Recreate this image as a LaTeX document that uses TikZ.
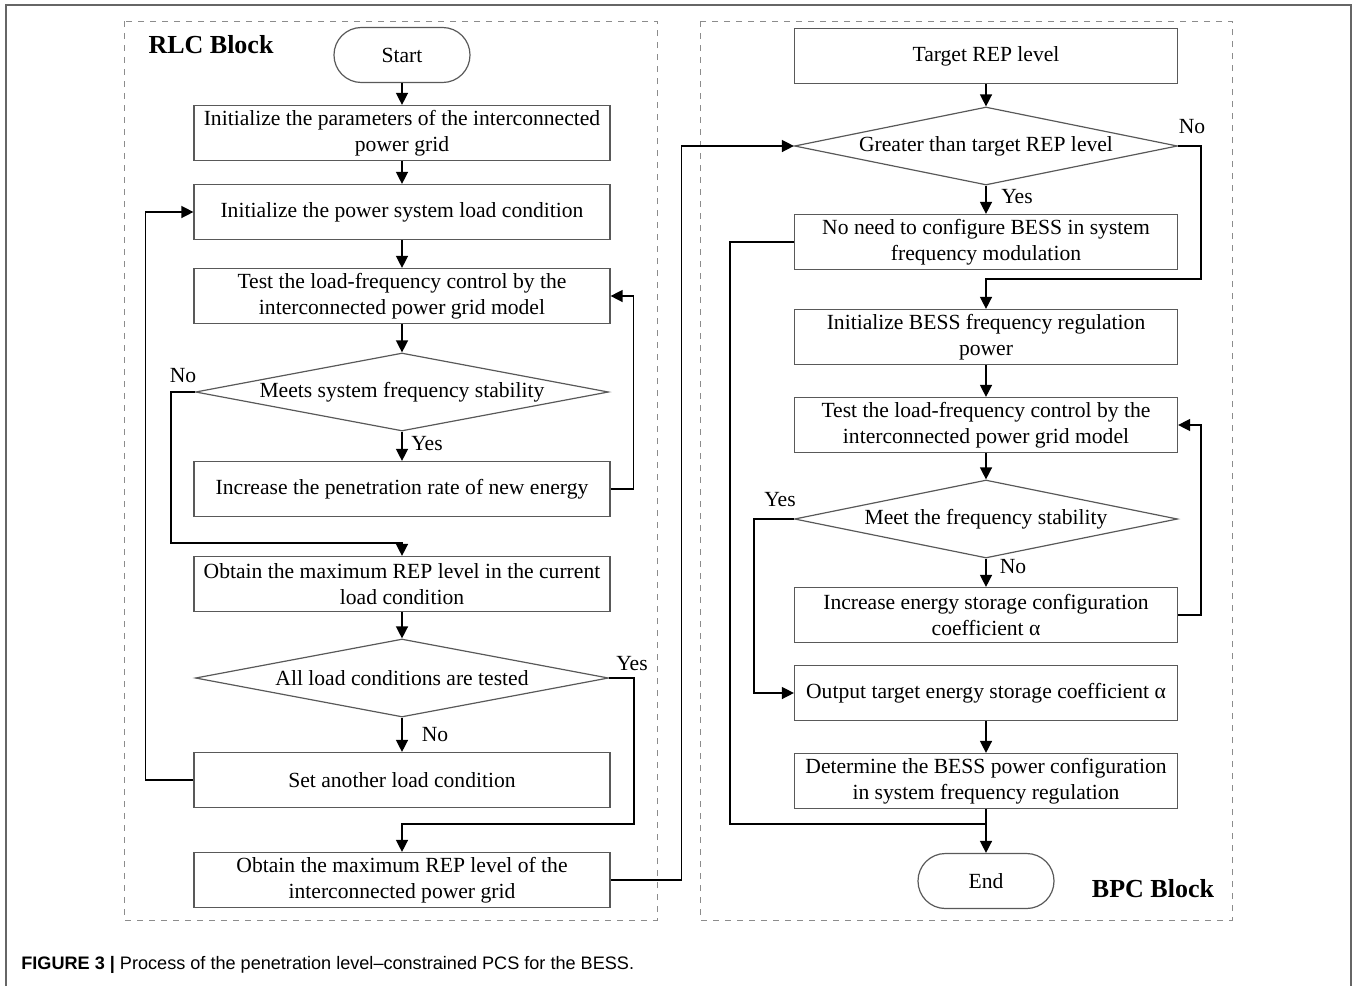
\documentclass[tikz,border=0pt]{standalone}
\usepackage{fontspec}
\setmainfont{Liberation Serif}
\newfontfamily\capfont{Liberation Sans}
\usetikzlibrary{arrows.meta}
\usetikzlibrary{shapes.geometric}

\begin{document}
\begin{tikzpicture}
		[x=0.5pt,y=-0.5pt,
		every node/.style={font=\fontsize{10.8}{13}\selectfont},
		box/.style={rectangle,draw=black!65,line width=0.6pt,minimum width=208pt,minimum height=27.5pt,align=center,inner sep=1pt},
		rbox/.style={box,minimum width=191.5pt},
		dec/.style={diamond,draw=black!65,line width=0.6pt,aspect=5.3,inner sep=0pt,minimum width=206.5pt,minimum height=39pt},
		term/.style={rectangle,rounded corners=13.7pt,draw=black!65,line width=0.6pt,minimum width=68pt,minimum height=27.5pt},
		arr/.style={-{Triangle[length=6pt,width=6pt]},line width=0.7pt},
		wire/.style={line width=0.7pt},
		blk/.style={font=\fontsize{13}{15}\selectfont\bfseries},
		frame/.style={draw=black!45,dashed,line width=0.4pt}]
		\useasboundingbox (0,0) rectangle (1354,986);
		% outer frame and blocks
		\draw[black!60,line width=1pt] (6,986) -- (6,5) -- (1351,5) -- (1351,986);
		\draw[frame] (124,21) rectangle (657,920);
		\draw[frame] (700,21) rectangle (1232,920);
		\node[blk] (rlc) at (211,45) {RLC Block};
		\node[blk] (bpc) at (1153,889) {BPC Block};
		
		% RLC block
		\node[term] (start) at (402,55) {Start};
		\node[box] (b1) at (402,133) {Initialize the parameters of the interconnected\\power grid};
		\node[box] (b2) at (402,212) {Initialize the power system load condition};
		\node[box] (b3) at (402,296) {Test the load-frequency control by the\\interconnected power grid model};
		\node[dec] (d1) at (402,392) {Meets system frequency stability};
		\node[box] (b4) at (402,489) {Increase the penetration rate of new energy};
		\node[box] (b5) at (402,584) {Obtain the maximum REP level in the current\\load condition};
		\node[dec] (d2) at (402,678) {All load conditions are tested};
		\node[box] (b6) at (402,780) {Set another load condition};
		\node[box] (b7) at (402,880) {Obtain the maximum REP level of the\\interconnected power grid};
		
		% BPC block
		\node[rbox] (r1) at (986,56) {Target REP level};
		\node[dec,minimum width=191.5pt] (d3) at (986,146) {Greater than target REP level};
		\node[rbox] (r2) at (986,242) {No need to configure BESS in system\\frequency modulation};
		\node[rbox] (r3) at (986,337) {Initialize BESS frequency regulation\\power};
		\node[rbox] (r4) at (986,425) {Test the load-frequency control by the\\interconnected power grid model};
		\node[dec,minimum width=191.5pt] (d4) at (986,519) {Meet the frequency stability};
		\node[rbox] (r5) at (986,615) {Increase energy storage configuration\\coefficient α};
		\node[rbox] (r6) at (986,693) {Output target energy storage coefficient α};
		\node[rbox] (r7) at (986,781) {Determine the BESS power configuration\\in system frequency regulation};
		\node[term] (end) at (986,881) {End};
		\coordinate (join) at (986,824);
		
		% labels
		\node (y1) at (427,444) {Yes};
		\node (n1) at (183,376) {No};
		\node (n2) at (435,735) {No};
		\node (y2) at (632,664) {Yes};
		\node (n3) at (1192,127) {No};
		\node (y3) at (1017,197) {Yes};
		\node (y4) at (780,500) {Yes};
		\node (n4) at (1013,567) {No};
		
		\foreach \from/\to in
		{start/b1, b1/b2, b2/b3, b3/d1, d1/b4, b5/d2, d2/b6,
		 r1/d3, d3/r2, r3/r4, r4/d4, d4/r5, r6/r7, r7/end}
		\draw[arr] (\from) -- (\to);
		
		\draw[arr] (d1.west) -- ++(-24,0) -- ++(0,151) -| (b5.north);
		\draw[arr] (b4.east) -- ++(23,0) |- (b3.east);
		\draw[arr] (b6.west) -- ++(-48,0) |- (b2.west);
		\draw[arr] (d2.east) -- ++(25,0) -- ++(0,146) -| (b7.north);
		\draw[arr] (b7.east) -- ++(71,0) |- (d3.west);
		\draw[arr] (d3.east) -- ++(23,0) -- ++(0,133) -| (r3.north);
		\draw[wire] (r2.west) -- ++(-64,0) |- (join);
		\draw[arr] (d4.west) -- ++(-40,0) |- (r6.west);
		\draw[arr] (r5.east) -- ++(23,0) |- (r4.east);
		
		% caption
		\node[anchor=west,inner sep=0pt,font=\capfont\fontsize{9.05}{11}\selectfont] (cap) at (21,965)
		{\textbf{FIGURE 3 |} Process of the penetration level\textendash constrained PCS for the BESS.};
\end{tikzpicture}
\end{document}
